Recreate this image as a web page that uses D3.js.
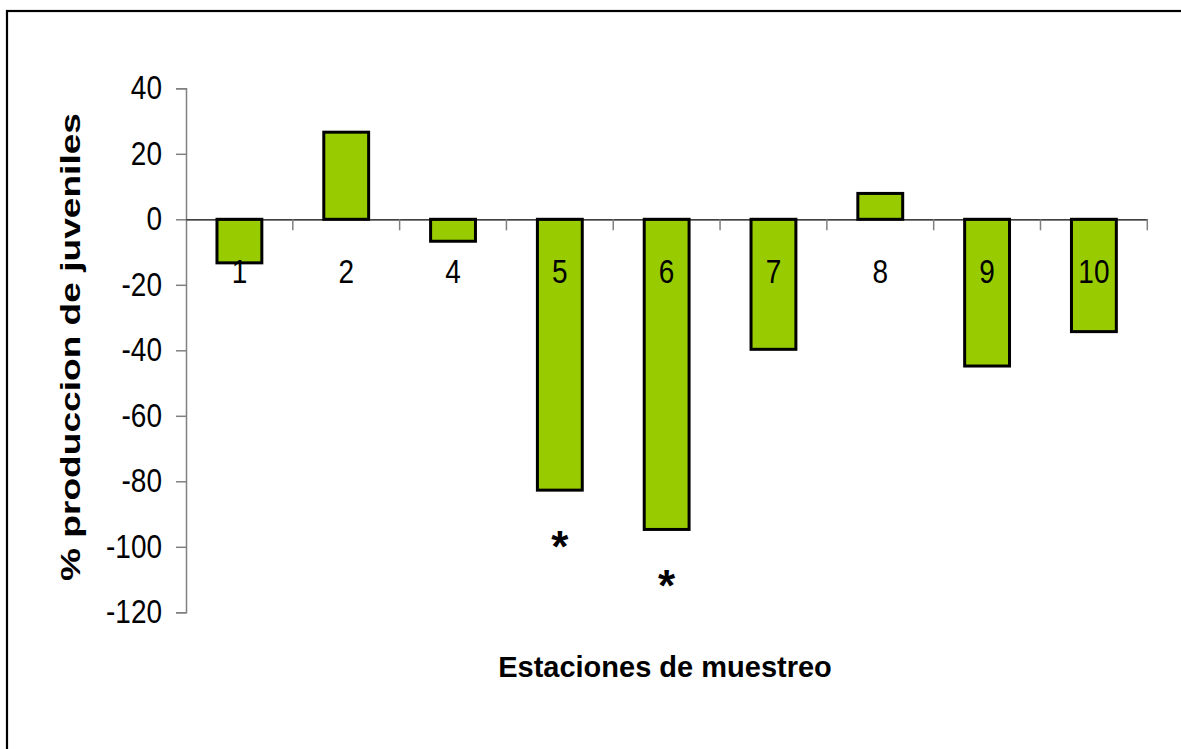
<!DOCTYPE html>
<html>
<head>
<meta charset="utf-8">
<script src="https://cdn.jsdelivr.net/npm/d3@7"></script>
<style>
  html, body { margin: 0; padding: 0; background: #fff; }
  svg { display: block; }
  text { font-family: Arial, "Liberation Sans", sans-serif; fill: #000; }
</style>
</head>
<body>
<svg id="chart" width="1181" height="749"></svg>
<script>
// Sampling stations and the % change in juvenile production at each one
const stations = ["1", "2", "4", "5", "6", "7", "8", "9", "10"];
const produccion = [-13.3, 26.6, -6.7, -82.7, -94.7, -39.7, 7.9, -44.8, -34.3];
// Stations marked as significant
const significativas = ["5", "6"];
const yTicks = [40, 20, 0, -20, -40, -60, -80, -100, -120];

const svg = d3.select("#chart");

// outer frame
svg.append("rect")
  .attr("x", 7).attr("y", 11)
  .attr("width", 1300).attr("height", 900)
  .attr("fill", "none").attr("stroke", "#000").attr("stroke-width", 2.2);

const plot = { left: 186, right: 1147.3, top: 88.3, bottom: 612.3 };

const x = d3.scaleBand()
  .domain(stations)
  .range([plot.left, plot.right])
  .paddingInner(0.58)
  .paddingOuter(0.29);

const y = d3.scaleLinear()
  .domain([-120, 40])
  .range([plot.bottom, plot.top]);

// Y axis (plain hyphen for negatives)
const yAxis = svg.append("g")
  .attr("transform", `translate(${plot.left},0)`)
  .call(d3.axisLeft(y).tickValues(yTicks).tickSize(10).tickPadding(14).tickFormat((d) => String(d)));
yAxis.select(".domain").attr("stroke", "#808080").attr("stroke-width", 1.5);
yAxis.selectAll(".tick line").attr("stroke", "#808080").attr("stroke-width", 1.5);
yAxis.selectAll(".tick text")
  .attr("font-size", 28)
  .attr("font-family", "Arial, 'Liberation Sans', sans-serif")
  .attr("fill", "#000")
  .attr("transform", "scale(1,1.18)");

// bars
svg.append("g").selectAll("rect")
  .data(stations)
  .join("rect")
  .attr("x", (d) => x(d))
  .attr("width", x.bandwidth())
  .attr("y", (d, i) => y(Math.max(0, produccion[i])))
  .attr("height", (d, i) => Math.abs(y(produccion[i]) - y(0)))
  .attr("fill", "#99CC00")
  .attr("stroke", "#000")
  .attr("stroke-width", 3);

// category axis along zero
const xAxis = svg.append("g")
  .attr("transform", `translate(0,${y(0)})`)
  .call(d3.axisBottom(x).tickSize(0).tickFormat(""));
xAxis.select(".domain").attr("stroke", "#000").attr("stroke-width", 1.2);
xAxis.selectAll(".tick").remove();

// category boundary ticks
const bounds = stations.map((d) => x(d) - x.step() * x.paddingInner() / 2 + x.step());
svg.append("g").selectAll("line")
  .data(bounds)
  .join("line")
  .attr("x1", (d) => d).attr("x2", (d) => d)
  .attr("y1", y(0)).attr("y2", y(0) + 11)
  .attr("stroke", "#808080").attr("stroke-width", 1.5);

// category labels
svg.append("g").selectAll("text")
  .data(stations)
  .join("text")
  .attr("transform", (d) => `translate(${x(d) + x.bandwidth() / 2},${283}) scale(1,1.2)`)
  .attr("text-anchor", "middle")
  .attr("font-size", 28)
  .text((d) => d);

// significance markers
svg.append("g").selectAll("text")
  .data(significativas)
  .join("text")
  .attr("x", (d) => x(d) + x.bandwidth() / 2)
  .attr("y", (d) => y(produccion[stations.indexOf(d)]) + 72)
  .attr("text-anchor", "middle")
  .attr("font-size", 44)
  .attr("font-weight", "bold")
  .text("*");

// axis titles
svg.append("text")
  .attr("x", 665).attr("y", 677)
  .attr("text-anchor", "middle")
  .attr("font-size", 29)
  .attr("font-weight", "bold")
  .text("Estaciones de muestreo");

svg.append("text")
  .attr("transform", `translate(80,347) rotate(-90)`)
  .attr("text-anchor", "middle")
  .attr("font-size", 27)
  .attr("font-weight", "bold")
  .attr("textLength", 468)
  .attr("lengthAdjust", "spacingAndGlyphs")
  .text("% produccion de juveniles");
</script>
</body>
</html>
